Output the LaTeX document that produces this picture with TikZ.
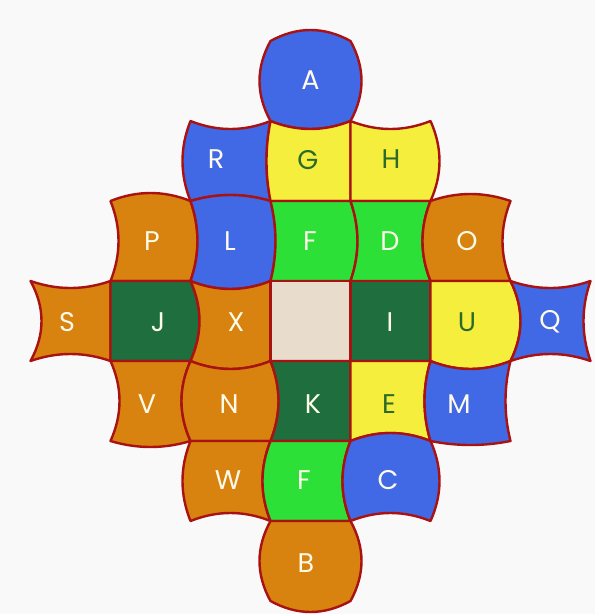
\documentclass[tikz,border=0pt]{standalone}
\usepackage{fontspec}
\setmainfont{Poppins}
\definecolor{cblu}{HTML}{4169E6}
\definecolor{cyel}{HTML}{F5EE3C}
\definecolor{clgr}{HTML}{2DE038}
\definecolor{cdgr}{HTML}{1F6E3E}
\definecolor{cora}{HTML}{D8820F}
\definecolor{cbei}{HTML}{E8DDCC}
\definecolor{cedge}{HTML}{A81212}
\definecolor{cbg}{HTML}{F9F9F9}
\definecolor{ctxd}{HTML}{2A6A2A}
\definecolor{ctxw}{HTML}{FFFBEA}
\tikzset{
  tileline/.style={draw=cedge, line width=2.4pt, line join=round},
  lbl/.style={font=\fontsize{27}{27}\selectfont, inner sep=0pt},
  wt/.style={lbl, text=ctxw},
  dt/.style={lbl, text=ctxd}
}
\newcommand\mytile[7]{%
  \pgfmathsetmacro\myxa{310.5+80*(#1)-40}%
  \pgfmathsetmacro\myxb{\myxa+80}%
  \pgfmathsetmacro\myya{321+80*(#2)-40}%
  \pgfmathsetmacro\myyb{\myya+80}%
  \pgfmathsetmacro\myxp{\myxa+26.667}%
  \pgfmathsetmacro\myxq{\myxa+53.333}%
  \pgfmathsetmacro\myyp{\myya+26.667}%
  \pgfmathsetmacro\myyq{\myya+53.333}%
  \pgfmathsetmacro\myT{\myya-4*(#3)/3}%
  \pgfmathsetmacro\myR{\myxb+4*(#4)/3}%
  \pgfmathsetmacro\myB{\myyb+4*(#5)/3}%
  \pgfmathsetmacro\myL{\myxa-4*(#6)/3}%
  \draw[tileline, fill=#7] (\myxa,\myya)
    .. controls (\myxp,\myT) and (\myxq,\myT) .. (\myxb,\myya)
    .. controls (\myR,\myyp) and (\myR,\myyq) .. (\myxb,\myyb)
    .. controls (\myxq,\myB) and (\myxp,\myB) .. (\myxa,\myyb)
    .. controls (\myL,\myyq) and (\myL,\myyp) .. (\myxa,\myya) -- cycle;%
}
\begin{document}
\begin{tikzpicture}[x=1pt,y=-1pt]
\fill[cbg] (0,0) rectangle (595,614);
\useasboundingbox (0,0) rectangle (595,614);
% row -3
\mytile{0}{-3}{11}{11}{8}{11}{cblu}
% row -2
\mytile{-1}{-2}{-8}{-4}{-6}{8}{cblu}
\mytile{0}{-2}{-8}{0}{0}{4}{cyel}
\mytile{1}{-2}{-8}{9}{0}{0}{cyel}
% row -1
\mytile{-2}{-1}{8}{7}{0}{-8}{cora}
\mytile{-1}{-1}{6}{5}{8}{-7}{cblu}
\mytile{0}{-1}{0}{7}{0}{-5}{clgr}
\mytile{1}{-1}{0}{-8}{0}{-7}{clgr}
\mytile{2}{-1}{7}{-8}{0}{8}{cora}
% row 0
\mytile{-3}{0}{-7}{0}{-7}{-11}{cora}
\mytile{-2}{0}{0}{9}{0}{0}{cdgr}
\mytile{-1}{0}{-8}{0}{8}{-9}{cora}
\mytile{0}{0}{0}{0}{0}{0}{cbei}
\mytile{1}{0}{0}{0}{0}{0}{cdgr}
\mytile{2}{0}{0}{10}{8}{0}{cyel}
\mytile{3}{0}{-7}{-7}{-7}{-10}{cblu}
% row 1
\mytile{-2}{1}{0}{-9}{6}{-9}{cora}
\mytile{-1}{1}{-8}{8}{0}{9}{cora}
\mytile{0}{1}{0}{0}{0}{-8}{cdgr}
\mytile{1}{1}{0}{-6}{-8}{0}{cyel}
\mytile{2}{1}{-8}{-5}{4}{6}{cblu}
% row 2
\mytile{-1}{2}{0}{-8}{-8}{8}{cora}
\mytile{0}{2}{0}{-8}{0}{8}{clgr}
\mytile{1}{2}{8}{9}{-8}{8}{cblu}
% row 3
\mytile{0}{3}{0}{11}{11}{11}{cora}
% labels
\node[wt] (nA) at (310.5,80) {A};
\node[wt] (nR) at (216,159) {R};
\node[dt] (nG) at (308,160) {G};
\node[dt] (nH) at (391,159) {H};
\node[wt] (nP) at (152,241) {P};
\node[wt] (nL) at (230,241) {L};
\node[wt] (nF) at (310,241) {F};
\node[wt] (nD) at (390,241) {D};
\node[wt] (nO) at (467,241) {O};
\node[wt] (nS) at (67,322) {S};
\node[wt] (nJ) at (158,322) {J};
\node[wt] (nX) at (236,322) {X};
\node[wt] (nI) at (390,322) {I};
\node[dt] (nU) at (467,322) {U};
\node[wt] (nQ) at (550,322) {Q};
\node[wt] (nV) at (147,404) {V};
\node[wt] (nN) at (229,404) {N};
\node[wt] (nK) at (313,404) {K};
\node[dt] (nE) at (389,404) {E};
\node[wt] (nM) at (459,404) {M};
\node[wt] (nW) at (228,480) {W};
\node[wt] (nF2) at (304,480) {F};
\node[wt] (nC) at (388,480) {C};
\node[wt] (nB) at (306,563) {B};
\end{tikzpicture}
\end{document}
